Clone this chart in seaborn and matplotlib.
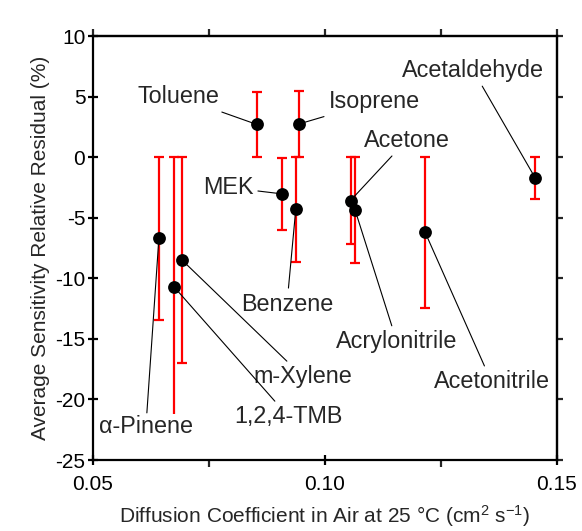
import numpy as np
import pandas as pd
import matplotlib
matplotlib.use("Agg")
import matplotlib.pyplot as plt
import seaborn as sns
from matplotlib.ticker import MultipleLocator

# Compounds, diffusion coefficients and residuals
compounds = ['Toluene', 'Isoprene', 'Acetaldehyde', 'Acetone', 'MEK', 'Benzene',
             'Acrylonitrile', 'Acetonitrile', 'm-Xylene', '1,2,4-TMB', 'α-Pinene']
diffusion = [0.0853, 0.0945, 0.1453, 0.1055, 0.0907, 0.0937,
             0.1065, 0.1216, 0.0692, 0.0674, 0.0642]
residual = [2.70, 2.75, -1.71, -3.58, -3.03, -4.32,
            -4.38, -6.22, -8.50, -10.68, -6.71]
residual_err = [2.70, 2.75, 1.71, 3.57, 3.00, 4.32,
                4.36, 6.20, 8.50, 10.68, 6.70]

# Label positions (data coords) for the annotated names
label_x = [0.0685, 0.1106, 0.1319, 0.1176, 0.0791, 0.0918,
           0.1155, 0.1359, 0.0953, 0.0922, 0.0614]
label_y = [4.98, 4.57, 7.18, 1.40, -2.50, -12.14,
           -15.25, -18.56, -18.14, -21.45, -22.27]

df = pd.DataFrame({'Compound': compounds, 'D': diffusion,
                   'Residual': residual, 'Err': residual_err})

sns.set_style("ticks")
plt.rcParams['font.family'] = ['Liberation Sans', 'DejaVu Sans']
plt.rcParams['mathtext.fontset'] = 'custom'
plt.rcParams['mathtext.rm'] = 'Liberation Sans'
plt.rcParams['mathtext.it'] = 'Liberation Sans'
plt.rcParams['axes.unicode_minus'] = False

fig = plt.figure(figsize=(5.82, 5.31), dpi=100)
ax = fig.add_axes([0.1598, 0.1337, 0.7972, 0.7985])

# Error bars first, then markers on top
ax.errorbar(df['D'], df['Residual'], yerr=df['Err'], fmt='none',
            ecolor='red', elinewidth=1.6, capsize=3.5, capthick=1.6, zorder=2)
sns.scatterplot(data=df, x='D', y='Residual', color='black', s=85,
                edgecolor='black', linewidth=0, ax=ax, zorder=3)

# Leader-line annotations
for name, px, py, lx, ly in zip(compounds, diffusion, residual, label_x, label_y):
    bbox = None
    if name == 'α-Pinene':
        bbox = dict(boxstyle='square,pad=0.05', fc='white', ec='none')
    ax.annotate(name, xy=(px, py), xytext=(lx, ly), ha='center', va='center',
                fontsize=16.8, bbox=bbox,
                arrowprops=dict(arrowstyle='-', color='black', lw=0.8,
                                shrinkA=1, shrinkB=0), zorder=4)

ax.set_xlim(0.05, 0.15)
ax.set_ylim(-25, 10)
ax.xaxis.set_major_locator(MultipleLocator(0.05))
ax.xaxis.set_minor_locator(MultipleLocator(0.025))
ax.yaxis.set_major_locator(MultipleLocator(5))
ax.set_xticklabels([f'{v:.2f}' for v in ax.get_xticks()])

for s in ax.spines.values():
    s.set_linewidth(1.6)
    s.set_color('black')

ax.tick_params(axis='both', which='major', direction='inout', length=7,
               width=1.6, labelsize=15, colors='black', pad=2)
ax.tick_params(axis='x', which='major', pad=7)
ax.tick_params(axis='x', which='minor', direction='out', length=5, width=1.6)

# Mirror ticks on top and right
sec_x = ax.secondary_xaxis('top')
sec_x.xaxis.set_major_locator(MultipleLocator(0.025))
sec_x.tick_params(direction='out', length=5, width=1.6, labeltop=False)
sec_x.spines['top'].set_linewidth(1.6)
sec_y = ax.secondary_yaxis('right')
sec_y.yaxis.set_major_locator(MultipleLocator(5))
sec_y.tick_params(direction='out', length=4, width=1.6, labelright=False)
sec_y.spines['right'].set_linewidth(1.6)

ax.set_xlabel('Diffusion Coefficient in Air at 25 °C (cm$^{2}$ s$^{-1}$)', fontsize=15, labelpad=7)
ax.set_ylabel('Average Sensitivity Relative Residual (%)', fontsize=15, labelpad=4)

fig.savefig('out.png', dpi=100)
